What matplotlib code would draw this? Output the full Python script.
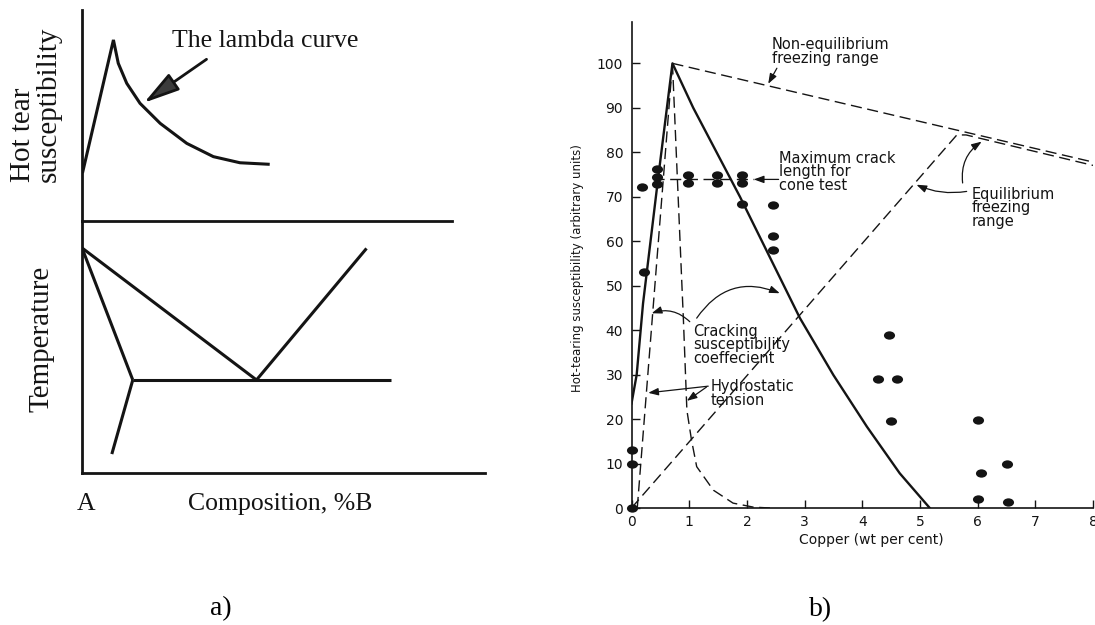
import numpy as np
import matplotlib.pyplot as plt
from matplotlib.path import Path
from matplotlib.transforms import Affine2D

W, H = 1095, 625

# a) lambda curve (composition %B, hot tear susceptibility, arbitrary 0-100)
lambda_comp = [0.2, 7.8, 9.0, 11.1, 14.4, 19.4, 26.0, 32.6, 39.2, 46.2]
lambda_hts = [23.3, 85.8, 74.7, 65.2, 55.7, 46.2, 36.7, 30.4, 27.5, 26.8]

# a) eutectic phase diagram below it (composition, temperature 0-100)
liq_a_comp = [0.0, 43.3]
liq_a_temp = [89.2, 36.8]
liq_b_comp = [43.3, 70.6]
liq_b_temp = [36.8, 89.0]
solidus_comp = [0.0, 12.6]
solidus_temp = [89.2, 36.8]
solvus_comp = [12.6, 7.4]
solvus_temp = [36.8, 7.4]
eutectic_comp = [12.6, 76.7]
eutectic_temp = [36.8, 36.8]

# b) Al-Cu hot tearing data, copper wt%
crack_cu = [0.0, 0.09, 0.2, 0.46, 0.71, 1.07, 1.88, 2.92, 3.5, 4.08, 4.65, 5.17]
crack_hts = [23.5, 30.0, 46.0, 74.0, 100.0, 90.0, 70.0, 42.7, 29.9, 18.3, 7.8, 0.0]

hydro_left_cu = [0.1, 0.71]
hydro_left_hts = [0.0, 100.0]
hydro_right_cu = [0.71, 0.87, 0.9, 0.96, 1.04, 1.13, 1.42, 1.76, 2.11, 2.4]
hydro_right_hts = [100.0, 51.3, 42.3, 22.0, 15.3, 9.3, 4.0, 1.1, 0.2, 0.0]

noneq_cu = [0.71, 8.0]
noneq_hts = [100.0, 77.8]
equil_cu = [0.0, 5.64, 5.8, 8.0]
equil_hts = [0.0, 83.9, 83.9, 77.05]

maxcrack_cu = [0.37, 2.12]
maxcrack_hts = [73.9, 73.9]

dots_cu = [0, 0, 0, 0.19, 0.21, 0.45, 0.45, 0.45, 0.98, 0.98, 1.48, 1.48,
           1.92, 1.92, 1.92, 2.45, 2.45, 2.45, 4.47, 4.28, 4.61, 4.5,
           6.0, 6.06, 6.01, 6.51, 6.53]
dots_hts = [0, 10, 13, 72.2, 53.1, 76.3, 74.4, 72.8, 74.8, 73.0, 74.9, 73.0,
            74.9, 73.0, 68.3, 68.1, 61.1, 58.1, 39.0, 29.1, 29.1, 19.6,
            19.8, 7.9, 2.0, 9.8, 1.4]

x_ticks = list(range(0, 9))
y_ticks = list(range(0, 101, 10))

ink = '#141414'
serif = 'Liberation Serif'


def frame(x0, y0, x1, y1):
    # pixel box (top-left origin) -> figure fraction rect
    return [x0 / W, 1 - y1 / H, (x1 - x0) / W, (y1 - y0) / H]


def fx(x):
    return x / W


def fy(y):
    return 1 - y / H


fig = plt.figure(figsize=(W / 100, H / 100), dpi=100)

# ---------------- a) ----------------
ax_s = fig.add_axes(frame(82, 10, 485, 220.7))
ax_t = fig.add_axes(frame(82, 220.7, 485, 472.7))
for ax in (ax_s, ax_t):
    ax.set_xlim(0, 100)
    ax.set_ylim(0, 100)
    ax.set_xticks([])
    ax.set_yticks([])
    ax.patch.set_visible(False)
    for side in ('top', 'right'):
        ax.spines[side].set_visible(False)
    for side in ('left', 'bottom'):
        ax.spines[side].set_linewidth(2.0)
        ax.spines[side].set_color(ink)
ax_s.spines['bottom'].set_bounds(0, 91.7)

ax_s.plot(lambda_comp, lambda_hts, color=ink, lw=2.2, solid_joinstyle='miter')
ax_s.annotate('', xy=(15.4, 56.0), xytext=(30.9, 76.6),
              arrowprops=dict(arrowstyle='-|>,head_length=1.1,head_width=0.3',
                              mutation_scale=20, lw=2.0, color=ink, fc='#3c3c3c',
                              shrinkA=0, shrinkB=0))
ax_s.text(22.3, 82.4, 'The lambda curve', family=serif, fontsize=18.5,
          ha='left', va='baseline', color=ink)

for cx, cy in ((liq_a_comp, liq_a_temp), (liq_b_comp, liq_b_temp),
               (solidus_comp, solidus_temp), (solvus_comp, solvus_temp),
               (eutectic_comp, eutectic_temp)):
    ax_t.plot(cx, cy, color=ink, lw=2.2, solid_capstyle='butt')

fig.text(fx(36), fy(182), 'Hot tear\nsusceptibility', family=serif, fontsize=21,
         rotation=90, ha='center', va='bottom', multialignment='left',
         linespacing=0.95, color=ink)
fig.text(fx(42), fy(339), 'Temperature', family=serif, fontsize=21,
         rotation=90, ha='center', va='center', color=ink)
fig.text(fx(86), fy(510), 'A', family=serif, fontsize=18.5,
         ha='center', va='baseline', color=ink)
fig.text(fx(280), fy(510), 'Composition, %B', family=serif, fontsize=18.5,
         ha='center', va='baseline', color=ink)
fig.text(fx(221), fy(615), 'a)', family=serif, fontsize=20,
         ha='center', va='baseline', color='black')

# ---------------- b) ----------------
ax_b = fig.add_axes(frame(631.5, 22, 1093, 508))
ax_b.set_xlim(0, 8)
ax_b.set_ylim(0, 109.3)
ax_b.patch.set_visible(False)
for side in ('top', 'right'):
    ax_b.spines[side].set_visible(False)
for side in ('left', 'bottom'):
    ax_b.spines[side].set_linewidth(1.2)
    ax_b.spines[side].set_color(ink)
ax_b.set_xticks(x_ticks)
ax_b.set_yticks(y_ticks)
ax_b.tick_params(direction='in', length=6, width=1.0, colors=ink, labelsize=10)
ax_b.tick_params(axis='x', pad=5)
ax_b.tick_params(axis='y', pad=6)
for lab in ax_b.get_xticklabels():
    lab.set_clip_on(False)

ax_b.set_xlabel('Copper (wt per cent)', fontsize=10, va='center', color=ink)
ax_b.xaxis.set_label_coords(0.519, -0.066)
ax_b.set_ylabel('Hot-tearing susceptibility (arbitrary units)', fontsize=8.5,
                va='center', color=ink)
ax_b.yaxis.set_label_coords(-0.118, 0.494)

dash = (0, (8, 4))
ax_b.plot(crack_cu, crack_hts, color=ink, lw=1.7)
ax_b.plot(hydro_left_cu, hydro_left_hts, color=ink, lw=1.0, ls=dash)
ax_b.plot(hydro_right_cu, hydro_right_hts, color=ink, lw=1.0, ls=dash)
ax_b.plot(noneq_cu, noneq_hts, color=ink, lw=1.0, ls=dash)
ax_b.plot(equil_cu, equil_hts, color=ink, lw=1.0, ls=dash)
ax_b.plot(maxcrack_cu, maxcrack_hts, color=ink, lw=1.0, ls=dash)

ellipse = Path.unit_circle().transformed(Affine2D().scale(1.0, 0.75))
ax_b.scatter(dots_cu, dots_hts, s=8.0 ** 2, marker=ellipse, color=ink,
             linewidths=0, clip_on=False, zorder=5)

note = dict(fontsize=10.5, ha='left', va='center', linespacing=0.88, color=ink)
ax_b.text(2.43, 102.7, 'Non-equilibrium\nfreezing range', **note)
ax_b.text(2.56, 75.6, 'Maximum crack\nlength for\ncone test', **note)
ax_b.text(5.9, 67.5, 'Equilibrium\nfreezing\nrange', **note)
ax_b.text(1.07, 36.7, 'Cracking\nsusceptibility\ncoeffecient', **note)
ax_b.text(1.37, 25.7, 'Hydrostatic\ntension', **note)

head = '-|>,head_length=0.6,head_width=0.22'


def pointer(start, end, rad=0.0):
    ax_b.annotate('', xy=end, xytext=start,
                  arrowprops=dict(arrowstyle=head, lw=0.9, color=ink,
                                  shrinkA=0, shrinkB=0,
                                  connectionstyle=f'arc3,rad={rad}'))


pointer((2.52, 98.9), (2.37, 95.4))
pointer((2.55, 73.9), (2.12, 73.9))
pointer((5.81, 71.2), (4.94, 72.7), -0.15)
pointer((5.74, 73.1), (6.07, 82.4), -0.3)
pointer((1.13, 42.7), (2.57, 48.3), -0.4)
pointer((1.01, 41.9), (0.35, 43.8), 0.3)
pointer((1.33, 27.4), (0.29, 25.9))
pointer((1.30, 27.2), (0.96, 24.1))

fig.text(fx(821), fy(616), 'b)', family=serif, fontsize=20,
         ha='center', va='baseline', color='black')

fig.savefig('out.png', dpi=100)
